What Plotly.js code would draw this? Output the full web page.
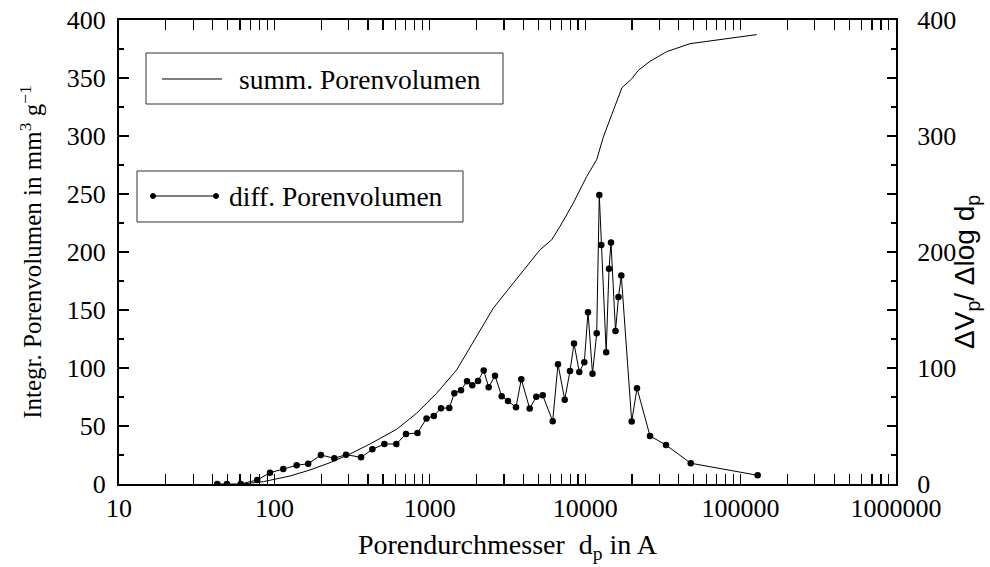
<!DOCTYPE html>
<html>
<head>
<meta charset="utf-8">
<script src="https://cdn.plot.ly/plotly-3.0.1.min.js"></script>
<style>html,body{margin:0;padding:0;background:#fff;}#chart{width:990px;height:567px;}</style>
</head>
<body>
<div id="chart"></div>
<script>
// Differential pore volume (right axis)
const diffD = [42.9, 49.5, 60.7, 77.6, 93.7, 114, 139, 165, 199, 243, 289, 361, 427, 510, 609, 703, 833, 952, 1061, 1181, 1335, 1438, 1588, 1736, 1877, 2043, 2223, 2393, 2628, 2901, 3185, 3586, 3880, 4394, 4845, 5328, 6178, 6683, 7383, 7986, 8472, 9162, 9867, 10423, 11143, 11858, 12322, 12694, 13649, 14230, 14656, 15668, 16381, 17077, 19918, 21544, 26122, 33113, 47752, 128825];
const diffV = [0, 0, 0, 3.5, 9.7, 12.9, 16.1, 17.5, 25.0, 22.2, 25.3, 23.0, 29.9, 34.5, 34.5, 43.1, 44.0, 56.5, 58.7, 65.3, 65.6, 78.3, 80.8, 88.6, 85.2, 88.9, 97.8, 83.4, 93.4, 75.7, 71.6, 66.2, 90.3, 65.0, 75.3, 76.5, 54.1, 103.3, 72.7, 97.5, 121.1, 96.6, 105.0, 148.1, 95.1, 129.9, 249.1, 206.0, 113.6, 185.5, 208.2, 132.0, 161.3, 179.7, 53.8, 82.6, 41.4, 33.6, 17.9, 7.5];
// Cumulative pore volume (left axis)
const sumD = [62, 84.8, 126, 169.5, 228, 306.5, 412, 612, 823, 1108, 1490, 1814, 2563, 3446, 5118, 6086, 6883, 8384, 10226, 11858, 13075, 14811, 17253, 19918, 21966, 26122, 33448, 47240, 126930];
const sumV = [0, 2.0, 6.9, 12.1, 18.4, 25.9, 34.5, 47.2, 61.0, 78.3, 98.4, 117.8, 151.6, 173.2, 201.9, 210.5, 222.0, 242.2, 265.1, 279.6, 299.0, 318.4, 341.7, 349.2, 356.6, 364.4, 372.7, 379.6, 387.4];
// Tick labels
const xTickVals = [10, 100, 1000, 10000, 100000, 1000000];
const xTickText = ["10", "100", "1000", "10000", "100000", "1000000"];
const y2TickVals = [0, 50, 100, 150, 200, 250, 300, 350, 400];
const y2TickText = ["0", "", "100", "", "200", "", "300", "", "400"];
const legendSumm = "summ. Porenvolumen";
const legendDiff = "diff. Porenvolumen";

const serif = "Liberation Serif, Times New Roman, serif";
const sans = "Liberation Sans, Arial, sans-serif";

const minorX = [];
for (let e = 1; e < 6; e++) for (let k = 2; k <= 9; k++) minorX.push(k * Math.pow(10, e));

// pixel -> paper helpers for the decorative legend boxes
const L = 119, W = 777, B = 484, H = 464;
const px = v => (v - L) / W;
const py = v => (B - v) / H;

const traces = [
  {x: sumD, y: sumV, type: 'scatter', mode: 'lines', name: legendSumm,
   line: {color: '#000', width: 1}, showlegend: false},
  {x: diffD, y: diffV, type: 'scatter', mode: 'lines+markers', name: legendDiff, yaxis: 'y2',
   line: {color: '#000', width: 1}, marker: {color: '#000', size: 6.5}, showlegend: false}
];

const shapes = [
  {type: 'rect', xref: 'paper', yref: 'paper', x0: px(146), x1: px(503), y0: py(53), y1: py(104),
   line: {color: '#333', width: 1}, fillcolor: 'rgba(0,0,0,0)'},
  {type: 'line', xref: 'paper', yref: 'paper', x0: px(162), x1: px(222), y0: py(79), y1: py(79),
   line: {color: '#000', width: 1}},
  {type: 'rect', xref: 'paper', yref: 'paper', x0: px(137), x1: px(463), y0: py(171), y1: py(222),
   line: {color: '#333', width: 1}, fillcolor: 'rgba(0,0,0,0)'},
  {type: 'line', xref: 'paper', yref: 'paper', x0: px(153), x1: px(216), y0: py(196), y1: py(196),
   line: {color: '#000', width: 1}},
  {type: 'circle', xref: 'paper', yref: 'paper', x0: px(150.5), x1: px(155.5), y0: py(193.5), y1: py(198.5),
   line: {color: '#000', width: 1}, fillcolor: '#000'},
  {type: 'circle', xref: 'paper', yref: 'paper', x0: px(213.5), x1: px(218.5), y0: py(193.5), y1: py(198.5),
   line: {color: '#000', width: 1}, fillcolor: '#000'}
];

const annotations = [
  {text: legendSumm, xref: 'paper', yref: 'paper', x: px(237), y: py(79), xanchor: 'left', yanchor: 'middle',
   showarrow: false, font: {family: serif, size: 27.5, color: '#000'}},
  {text: legendDiff, xref: 'paper', yref: 'paper', x: px(227), y: py(196), xanchor: 'left', yanchor: 'middle',
   showarrow: false, font: {family: serif, size: 27.5, color: '#000'}},
  {text: "ΔV<sub>p</sub>/ Δlog d<sub>p</sub>", xref: 'paper', yref: 'paper', x: px(966), y: py(272),
   xanchor: 'center', yanchor: 'middle', textangle: -90, showarrow: false,
   font: {family: sans, size: 28, color: '#000'}}
];

const layout = {
  width: 990, height: 567,
  margin: {l: 119, r: 94, t: 20, b: 83, pad: 0},
  paper_bgcolor: '#fff', plot_bgcolor: '#fff',
  showlegend: false,
  font: {family: serif, size: 26, color: '#000'},
  xaxis: {
    type: 'log', range: [1, 6], tickmode: 'array', tickvals: xTickVals, ticktext: xTickText,
    ticks: 'inside', ticklen: 10, tickwidth: 1.2, tickcolor: '#000',
    minor: {tickmode: 'array', tickvals: minorX, ticks: 'inside', ticklen: 5, tickwidth: 1.2, tickcolor: '#000', showgrid: false},
    showline: true, linecolor: '#000', linewidth: 2, mirror: 'allticks', showgrid: false, zeroline: false,
    tickfont: {family: serif, size: 26, color: '#000'},
    title: {text: "Porendurchmesser  d<sub>p</sub> in A", font: {family: serif, size: 28, color: '#000'}, standoff: 12}
  },
  yaxis: {
    range: [0, 400], dtick: 50, tick0: 0, ticks: 'inside', ticklen: 10, tickwidth: 1.2, tickcolor: '#000',
    minor: {dtick: 25, ticks: 'inside', ticklen: 5, tickwidth: 1.2, tickcolor: '#000', showgrid: false},
    showline: true, linecolor: '#000', linewidth: 2, showgrid: false, zeroline: false,
    tickfont: {family: serif, size: 26, color: '#000'}, ticklabelstandoff: 6,
    title: {text: "Integr. Porenvolumen in mm<sup>3</sup> g<sup>−1</sup>", font: {family: serif, size: 25, color: '#000'}, standoff: 18}
  },
  yaxis2: {
    overlaying: 'y', side: 'right', range: [0, 400], tickmode: 'array', tickvals: y2TickVals, ticktext: y2TickText,
    ticks: 'inside', ticklen: 9, tickwidth: 1.2, tickcolor: '#000',
    minor: {dtick: 25, ticks: 'inside', ticklen: 5, tickwidth: 1.2, tickcolor: '#000', showgrid: false},
    showline: true, linecolor: '#000', linewidth: 2, showgrid: false, zeroline: false,
    tickfont: {family: serif, size: 26, color: '#000'}, ticklabelstandoff: 14
  },
  shapes: shapes,
  annotations: annotations
};

Plotly.newPlot('chart', traces, layout, {displayModeBar: false, staticPlot: true});
</script>
</body>
</html>
